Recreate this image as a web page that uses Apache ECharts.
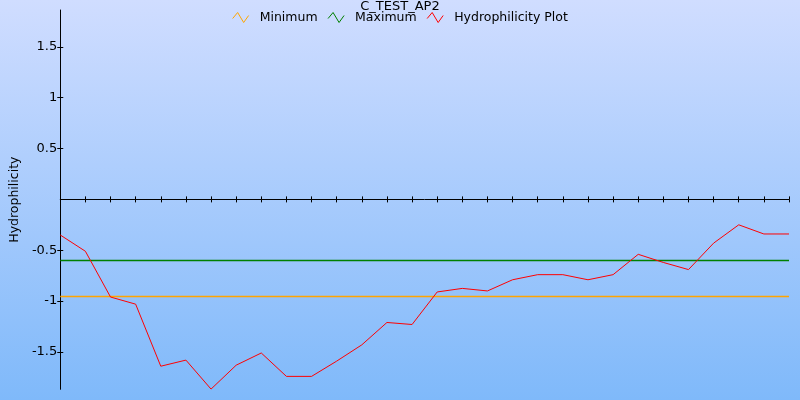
<!DOCTYPE html>
<html>
<head>
<meta charset="utf-8">
<script src="https://cdn.jsdelivr.net/npm/echarts@6/dist/echarts.min.js"></script>
<style>
  html, body { margin: 0; padding: 0; }
  #chart { width: 800px; height: 400px; }
</style>
</head>
<body>
<div id="chart"></div>
<script>
const titleText = 'C_TEST_AP2';
const yAxisName = 'Hydrophilicity';
const categories = ['1','2','3','4','5','6','7','8','9','10','11','12','13','14','15','16','17','18','19','20','21','22','23','24','25','26','27','28','29','30'];
const hydrophilicity = [-0.35, -0.51, -0.96, -1.03, -1.64, -1.58, -1.865, -1.63, -1.51, -1.74, -1.74, -1.59, -1.43, -1.21, -1.23, -0.91, -0.875, -0.90, -0.79, -0.74, -0.74, -0.79, -0.74, -0.54, -0.62, -0.69, -0.43, -0.25, -0.34, -0.34];
const minimumValues = [-0.954, -0.954, -0.954, -0.954, -0.954, -0.954, -0.954, -0.954, -0.954, -0.954, -0.954, -0.954, -0.954, -0.954, -0.954, -0.954, -0.954, -0.954, -0.954, -0.954, -0.954, -0.954, -0.954, -0.954, -0.954, -0.954, -0.954, -0.954, -0.954, -0.954];
const maximumValues = [-0.60, -0.60, -0.60, -0.60, -0.60, -0.60, -0.60, -0.60, -0.60, -0.60, -0.60, -0.60, -0.60, -0.60, -0.60, -0.60, -0.60, -0.60, -0.60, -0.60, -0.60, -0.60, -0.60, -0.60, -0.60, -0.60, -0.60, -0.60, -0.60, -0.60];
const yTickValues = [-1.5, -1, -0.5, 0.5, 1, 1.5];
const yMin = -1.867;
const yMax = 1.862;

const FONT = 'DejaVu Sans';
const chart = echarts.init(document.getElementById('chart'), null, { renderer: 'canvas' });
const iconPath = 'path://M0,6 L5,0 L11,10 L16,3';

chart.setOption({
  animation: false,
  backgroundColor: new echarts.graphic.LinearGradient(0, 0, 0, 1, [
    { offset: 0, color: '#d0ddff' },
    { offset: 1, color: '#7fb9fa' }
  ]),
  textStyle: { fontFamily: FONT },
  title: {
    text: titleText,
    left: 'center',
    top: 0,
    padding: 0,
    textStyle: { fontFamily: FONT, fontSize: 13, fontWeight: 'normal', color: '#000' }
  },
  legend: {
    top: 11,
    left: 'center',
    padding: 0,
    itemWidth: 16,
    itemHeight: 10,
    itemGap: 10,
    textStyle: { fontFamily: FONT, fontSize: 12.5, color: '#000', padding: [0, 0, 0, 6] },
    data: [
      { name: 'Minimum', icon: iconPath, itemStyle: { color: 'rgba(0,0,0,0)', borderColor: '#ffa500', borderWidth: 1 } },
      { name: 'Maximum', icon: iconPath, itemStyle: { color: 'rgba(0,0,0,0)', borderColor: '#008000', borderWidth: 1 } },
      { name: 'Hydrophilicity Plot', icon: iconPath, itemStyle: { color: 'rgba(0,0,0,0)', borderColor: '#ff0000', borderWidth: 1 } }
    ]
  },
  grid: { left: 59, top: 10, width: 730, height: 379.3, containLabel: false },
  xAxis: [
    {
      type: 'category',
      data: categories,
      boundaryGap: false,
      axisLine: { onZero: true, lineStyle: { color: '#000', width: 1 } },
      axisTick: { show: true, interval: 0, length: 3, inside: false, lineStyle: { color: '#000' } },
      axisLabel: { show: false },
      splitLine: { show: false }
    },
    {
      type: 'category',
      data: categories,
      boundaryGap: false,
      position: 'bottom',
      axisLine: { show: false, onZero: true },
      axisTick: { show: true, interval: 0, length: 3, inside: true, lineStyle: { color: '#000' } },
      axisLabel: { show: false },
      splitLine: { show: false }
    }
  ],
  yAxis: [
    {
      type: 'value',
      min: yMin,
      max: yMax,
      name: yAxisName,
      nameLocation: 'middle',
      nameGap: 38,
      nameTextStyle: { fontFamily: FONT, fontSize: 12.5, color: '#000' },
      axisLine: { show: true, lineStyle: { color: '#000', width: 1 } },
      axisTick: { show: true, length: 3, inside: false, customValues: yTickValues, lineStyle: { color: '#000' } },
      axisLabel: { show: true, margin: 3, customValues: yTickValues, fontFamily: FONT, fontSize: 13, color: '#000' },
      splitLine: { show: false }
    },
    {
      type: 'value',
      min: yMin,
      max: yMax,
      position: 'left',
      axisLine: { show: false },
      axisTick: { show: true, length: 3, inside: true, customValues: yTickValues, lineStyle: { color: '#000' } },
      axisLabel: { show: false },
      splitLine: { show: false }
    }
  ],
  series: [
    {
      name: 'Minimum',
      type: 'line',
      data: minimumValues,
      symbol: 'none',
      lineStyle: { color: '#ffa500', width: 1.5 },
      itemStyle: { color: '#ffa500' }
    },
    {
      name: 'Maximum',
      type: 'line',
      data: maximumValues,
      symbol: 'none',
      lineStyle: { color: '#008000', width: 1.5 },
      itemStyle: { color: '#008000' }
    },
    {
      name: 'Hydrophilicity Plot',
      type: 'line',
      data: hydrophilicity,
      symbol: 'none',
      lineStyle: { color: '#ff0000', width: 1 },
      itemStyle: { color: '#ff0000' }
    }
  ]
});
</script>
</body>
</html>
